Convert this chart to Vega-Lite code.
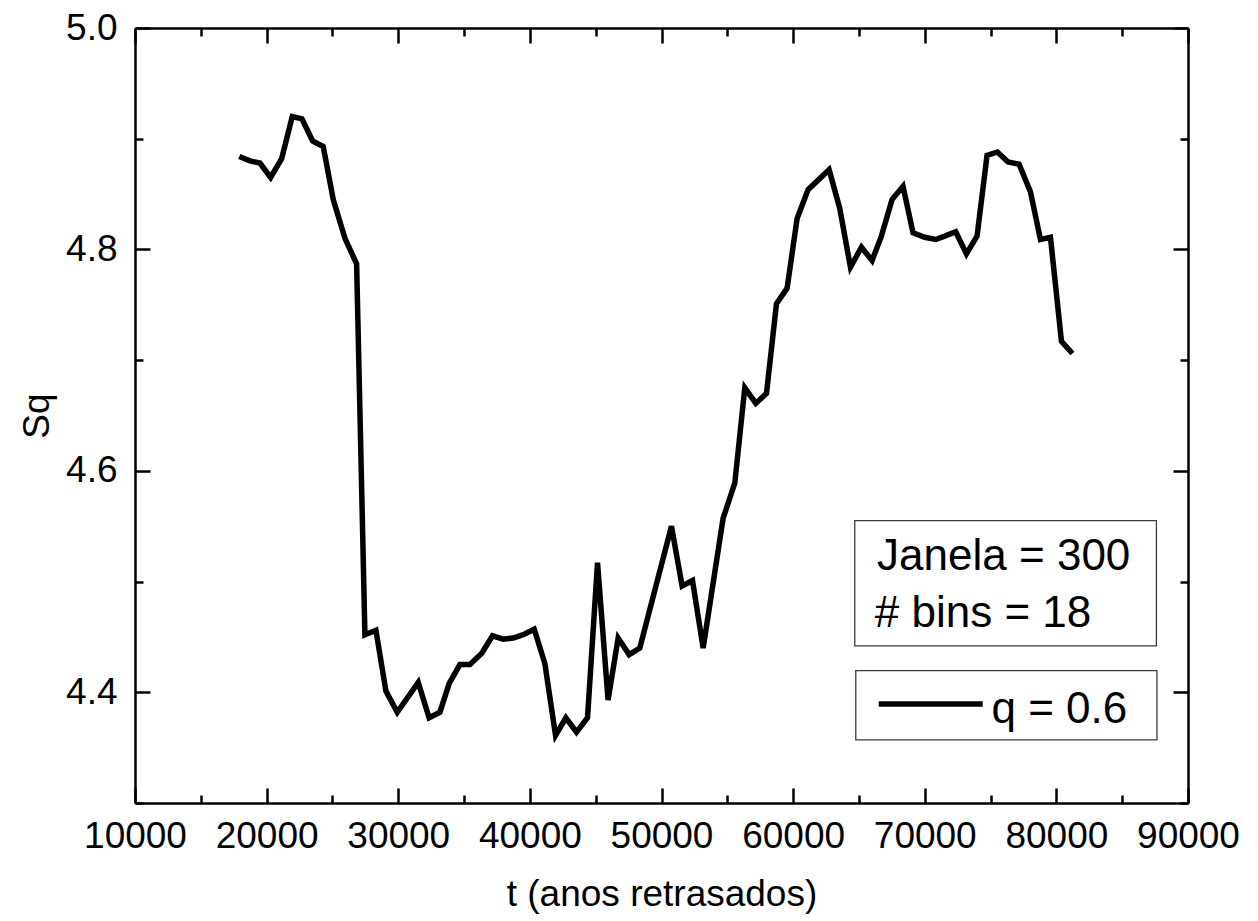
{
  "$schema": "https://vega.github.io/schema/vega-lite/v6.json",
  "width": 1053,
  "height": 775,
  "autosize": {"type": "none"},
  "padding": {"left": 135, "top": 28, "right": 70, "bottom": 118},
  "background": "white",
  "config": {
    "view": {"stroke": null},
    "font": "Liberation Sans",
    "axis": {
      "grid": false,
      "domainColor": "black",
      "domainWidth": 2.5,
      "tickColor": "black",
      "tickWidth": 2.5,
      "labelColor": "black",
      "labelFont": "Liberation Sans",
      "labelFontSize": 37,
      "labelFlush": false,
      "labelOverlap": false,
      "titleColor": "black",
      "titleFont": "Liberation Sans",
      "titleFontSize": 37,
      "titleFontWeight": "normal"
    }
  },
  "datasets": {
    "series": [
      {"t": 17922, "Sq": 4.884},
      {"t": 18734, "Sq": 4.880},
      {"t": 19494, "Sq": 4.878},
      {"t": 20305, "Sq": 4.865},
      {"t": 21142, "Sq": 4.882},
      {"t": 21947, "Sq": 4.920},
      {"t": 22684, "Sq": 4.918},
      {"t": 23496, "Sq": 4.898},
      {"t": 24301, "Sq": 4.893},
      {"t": 25061, "Sq": 4.845},
      {"t": 25950, "Sq": 4.810},
      {"t": 26837, "Sq": 4.787},
      {"t": 27469, "Sq": 4.452},
      {"t": 28304, "Sq": 4.456},
      {"t": 29063, "Sq": 4.401},
      {"t": 29925, "Sq": 4.382},
      {"t": 31518, "Sq": 4.409},
      {"t": 32346, "Sq": 4.377},
      {"t": 33165, "Sq": 4.382},
      {"t": 33872, "Sq": 4.408},
      {"t": 34684, "Sq": 4.425},
      {"t": 35444, "Sq": 4.425},
      {"t": 36331, "Sq": 4.435},
      {"t": 37166, "Sq": 4.451},
      {"t": 37974, "Sq": 4.448},
      {"t": 38733, "Sq": 4.449},
      {"t": 39493, "Sq": 4.452},
      {"t": 40329, "Sq": 4.457},
      {"t": 41140, "Sq": 4.426},
      {"t": 41950, "Sq": 4.361},
      {"t": 42734, "Sq": 4.377},
      {"t": 43543, "Sq": 4.364},
      {"t": 44379, "Sq": 4.377},
      {"t": 45139, "Sq": 4.517},
      {"t": 45941, "Sq": 4.393},
      {"t": 46706, "Sq": 4.449},
      {"t": 47542, "Sq": 4.434},
      {"t": 48353, "Sq": 4.440},
      {"t": 50757, "Sq": 4.550},
      {"t": 51566, "Sq": 4.496},
      {"t": 52355, "Sq": 4.501},
      {"t": 53164, "Sq": 4.440},
      {"t": 54678, "Sq": 4.557},
      {"t": 55570, "Sq": 4.589},
      {"t": 56330, "Sq": 4.675},
      {"t": 57166, "Sq": 4.661},
      {"t": 57976, "Sq": 4.670},
      {"t": 58735, "Sq": 4.751},
      {"t": 59544, "Sq": 4.765},
      {"t": 60303, "Sq": 4.828},
      {"t": 61139, "Sq": 4.854},
      {"t": 62734, "Sq": 4.872},
      {"t": 63544, "Sq": 4.837},
      {"t": 64355, "Sq": 4.784},
      {"t": 65190, "Sq": 4.802},
      {"t": 65999, "Sq": 4.790},
      {"t": 66706, "Sq": 4.812},
      {"t": 67514, "Sq": 4.845},
      {"t": 68349, "Sq": 4.857},
      {"t": 69110, "Sq": 4.815},
      {"t": 69999, "Sq": 4.811},
      {"t": 70835, "Sq": 4.809},
      {"t": 71520, "Sq": 4.812},
      {"t": 72355, "Sq": 4.816},
      {"t": 73165, "Sq": 4.796},
      {"t": 73974, "Sq": 4.812},
      {"t": 74733, "Sq": 4.885},
      {"t": 75524, "Sq": 4.888},
      {"t": 76328, "Sq": 4.879},
      {"t": 77164, "Sq": 4.877},
      {"t": 78032, "Sq": 4.852},
      {"t": 78791, "Sq": 4.809},
      {"t": 79551, "Sq": 4.811},
      {"t": 80386, "Sq": 4.717},
      {"t": 81221, "Sq": 4.706}
    ],
    "boxes": [
      {"t": 64683, "t2": 87600, "Sq": 4.555, "Sq2": 4.442},
      {"t": 64760, "t2": 87640, "Sq": 4.4195, "Sq2": 4.357}
    ],
    "key": [
      {"t": 66507, "t2": 74406, "Sq": 4.3894}
    ],
    "labels": [
      {"label": "Janela = 300", "t": 66380, "Sq": 4.5104},
      {"label": "# bins = 18", "t": 66203, "Sq": 4.4592},
      {"label": "q = 0.6", "t": 75066, "Sq": 4.372}
    ]
  },
  "layer": [
    {
      "data": {"name": "series"},
      "mark": {"type": "line", "color": "black", "strokeWidth": 5.5, "strokeJoin": "miter"},
      "encoding": {
        "x": {
          "field": "t", "type": "quantitative",
          "scale": {"domain": [10000, 90000], "nice": false, "zero": false},
          "axis": {
            "orient": "bottom",
            "values": [10000, 15000, 20000, 25000, 30000, 35000, 40000, 45000, 50000, 55000, 60000, 65000, 70000, 75000, 80000, 85000, 90000],
            "format": "d",
            "labelExpr": "datum.value % 10000 === 0 ? datum.label : ''",
            "tickSize": {"condition": {"test": "datum.value % 10000 === 0", "value": -15}, "value": -8},
            "labelPadding": 30,
            "title": "t (anos retrasados)",
            "titleX": 526.5,
            "titleY": 102,
            "titleAlign": "center",
            "titleBaseline": "alphabetic"
          }
        },
        "y": {
          "field": "Sq", "type": "quantitative",
          "scale": {"domain": [4.3, 5.0], "nice": false, "zero": false},
          "axis": {
            "orient": "left",
            "values": [4.3, 4.4, 4.5, 4.6, 4.7, 4.8, 4.9, 5.0],
            "format": ".1f",
            "labelExpr": "round(datum.value * 10) % 2 === 0 ? datum.label : ''",
            "tickSize": {"condition": {"test": "round(datum.value * 10) % 2 === 0", "value": -15}, "value": -8},
            "labelPadding": 33,
            "title": "Sq",
            "titleX": -87,
            "titleY": 387.5,
            "titleAngle": 270,
            "titleAlign": "center",
            "titleBaseline": "alphabetic"
          }
        }
      }
    },
    {
      "data": {"name": "boxes"},
      "mark": {"type": "rect", "fill": "white", "stroke": "#3a3a3a", "strokeWidth": 1.3},
      "encoding": {
        "x": {
          "field": "t", "type": "quantitative",
          "scale": {"domain": [10000, 90000], "nice": false, "zero": false},
          "axis": {
            "orient": "top",
            "values": [10000, 15000, 20000, 25000, 30000, 35000, 40000, 45000, 50000, 55000, 60000, 65000, 70000, 75000, 80000, 85000, 90000],
            "labels": false,
            "title": null,
            "tickSize": {"condition": {"test": "datum.value % 10000 === 0", "value": -15}, "value": -8}
          }
        },
        "x2": {"field": "t2"},
        "y": {
          "field": "Sq", "type": "quantitative",
          "scale": {"domain": [4.3, 5.0], "nice": false, "zero": false},
          "axis": {
            "orient": "right",
            "values": [4.3, 4.4, 4.5, 4.6, 4.7, 4.8, 4.9, 5.0],
            "labels": false,
            "title": null,
            "tickSize": {"condition": {"test": "round(datum.value * 10) % 2 === 0", "value": -15}, "value": -8}
          }
        },
        "y2": {"field": "Sq2"}
      }
    },
    {
      "data": {"name": "key"},
      "mark": {"type": "rule", "color": "black", "strokeWidth": 5.5},
      "encoding": {
        "x": {"field": "t", "type": "quantitative", "scale": {"domain": [10000, 90000], "nice": false, "zero": false}, "axis": null},
        "x2": {"field": "t2"},
        "y": {"field": "Sq", "type": "quantitative", "scale": {"domain": [4.3, 5.0], "nice": false, "zero": false}, "axis": null}
      }
    },
    {
      "data": {"name": "labels"},
      "mark": {"type": "text", "align": "left", "baseline": "alphabetic", "fontSize": 44, "font": "Liberation Sans", "color": "black"},
      "encoding": {
        "x": {"field": "t", "type": "quantitative", "scale": {"domain": [10000, 90000], "nice": false, "zero": false}, "axis": null},
        "y": {"field": "Sq", "type": "quantitative", "scale": {"domain": [4.3, 5.0], "nice": false, "zero": false}, "axis": null},
        "text": {"field": "label"}
      }
    }
  ],
  "resolve": {"axis": {"x": "independent", "y": "independent"}}
}
